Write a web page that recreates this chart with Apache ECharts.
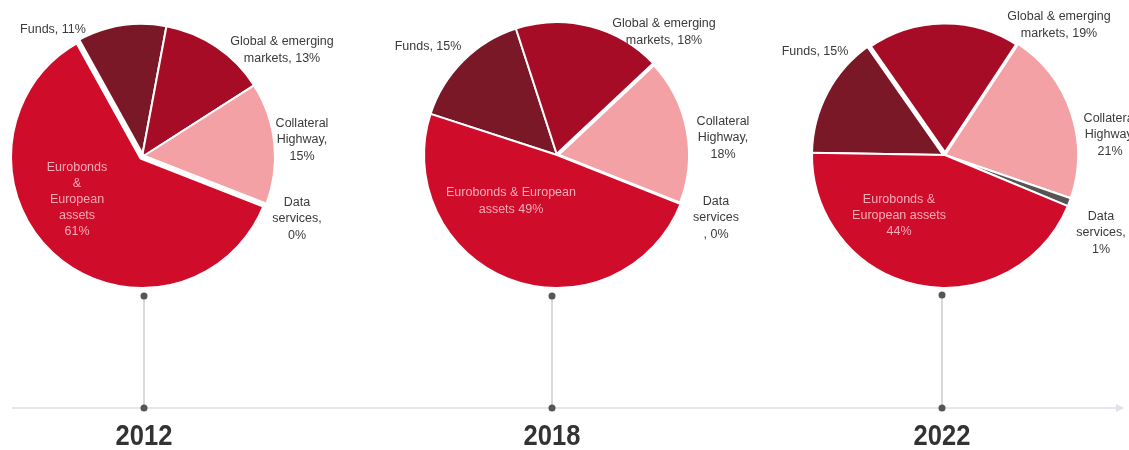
<!DOCTYPE html>
<html>
<head>
<meta charset="utf-8">
<script src="https://cdn.jsdelivr.net/npm/echarts@6/dist/echarts.min.js"></script>
<style>
html,body{margin:0;padding:0;background:#fff;}
#chart{width:1129px;height:450px;}
</style>
</head>
<body>
<div id="chart"></div>
<script>
// ---- data ----
const years = ['2012', '2018', '2022'];
const categories = ['Funds', 'Global & emerging markets', 'Collateral Highway', 'Data services', 'Eurobonds & European assets'];
const values2012 = [11, 13, 15, 0, 61];
const values2018 = [15, 18, 18, 0, 49];
const values2022 = [15, 19, 21, 1, 44];
const labels2012 = ['Funds, {v}%', 'Global & emerging\nmarkets, {v}%', 'Collateral\nHighway,\n{v}%', 'Data\nservices,\n{v}%', 'Eurobonds\n&\nEuropean\nassets\n{v}%'];
const labels2018 = ['Funds, {v}%', 'Global & emerging\nmarkets, {v}%', 'Collateral\nHighway,\n{v}%', 'Data\nservices\n, {v}%', 'Eurobonds & European\nassets {v}%'];
const labels2022 = ['Funds, {v}%', 'Global & emerging\nmarkets, {v}%', 'Collateral\nHighway,\n{v}%', 'Data\nservices,\n{v}%', 'Eurobonds &\nEuropean assets\n{v}%'];

// ---- layout / style ----
const colors = ['#7b1828', '#a60c26', '#f3a1a5', '#555555', '#d00c2b'];
const pies = [
  {values: values2012, labels: labels2012, center: [142, 157], start: 119, wide: 4, wideBorder: 6, innerLH: 16,
   pos: [[53,30],[282,50],[302,140],[297,219],[77,200]], lineX: 144},
  {values: values2018, labels: labels2018, center: [557, 155], start: 162, wide: 2, wideBorder: 4, innerLH: 17,
   pos: [[428,47],[664,32],[723,138],[716,218],[511,201]], lineX: 552},
  {values: values2022, labels: labels2022, center: [945, 155], start: 179, wide: 1, wideBorder: 5, innerLH: 16,
   pos: [[815,52],[1059,25],[1110,135],[1101,233],[899,216]], lineX: 942}
];
const radius = 133;
const timelineY = 408;

const series = pies.map((p) => ({
  type: 'pie',
  center: p.center,
  radius: [0, radius],
  startAngle: p.start,
  clockwise: true,
  avoidLabelOverlap: false,
  itemStyle: {borderColor: '#fff', borderWidth: 2},
  label: {
    show: true,
    position: 'outside',
    fontFamily: 'Liberation Sans, Arial, sans-serif',
    fontSize: 12.5,
    lineHeight: 16.5,
    color: '#3a3a3a',
    align: 'center',
    formatter: (q) => p.labels[q.dataIndex].replace('{v}', q.value)
  },
  labelLine: {show: false},
  labelLayout: (q) => ({x: p.pos[q.dataIndex][0], y: p.pos[q.dataIndex][1], align: 'center', verticalAlign: 'middle'}),
  emphasis: {disabled: true},
  data: categories.map((c, i) => {
    const d = {name: c, value: p.values[i], itemStyle: {color: colors[i]}};
    if (i === p.wide) d.itemStyle.borderWidth = p.wideBorder;
    if (i === 4) d.label = {color: 'rgba(250,190,198,0.9)', fontSize: 12.5, lineHeight: p.innerLH};
    return d;
  })
}));

// timeline decorations
const graphics = [];
graphics.push({type: 'line', shape: {x1: 12, y1: timelineY, x2: 1122, y2: timelineY}, style: {stroke: '#e6e6ec', lineWidth: 2}, z: 1});
graphics.push({type: 'polygon', shape: {points: [[1116, timelineY - 4], [1124, timelineY], [1116, timelineY + 4]]}, style: {fill: '#e0e0e6'}, z: 1});
pies.forEach((p, i) => {
  const topY = 296 - (i === 2 ? 1 : 0);
  graphics.push({type: 'line', shape: {x1: p.lineX, y1: topY, x2: p.lineX, y2: timelineY}, style: {stroke: '#b4b4bc', lineWidth: 1}, z: 2});
  graphics.push({type: 'circle', shape: {cx: p.lineX, cy: topY, r: 3.5}, style: {fill: '#555'}, z: 3});
  graphics.push({type: 'circle', shape: {cx: p.lineX, cy: timelineY, r: 3.5}, style: {fill: '#555'}, z: 3});
  graphics.push({type: 'text', x: p.lineX, y: 437, scaleX: 0.88, style: {text: years[i], fill: '#333', font: 'bold 29px "Liberation Sans", Arial, sans-serif', align: 'center', verticalAlign: 'middle'}, z: 3});
});

const chart = echarts.init(document.getElementById('chart'));
chart.setOption({
  animation: false,
  backgroundColor: '#fff',
  series: series,
  graphic: graphics
});
</script>
</body>
</html>
